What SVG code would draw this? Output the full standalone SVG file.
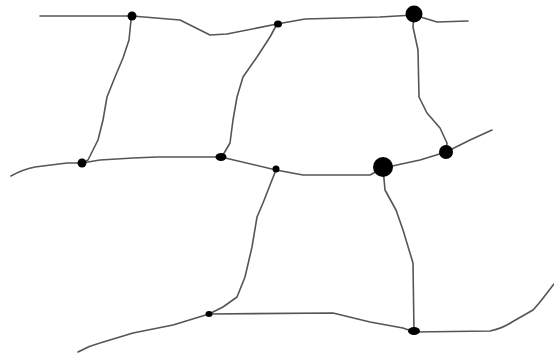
<svg xmlns="http://www.w3.org/2000/svg" width="554" height="355" viewBox="0 0 554 355">
<style>
.e{fill:none;stroke:#555;stroke-width:1.6;stroke-linejoin:round;stroke-linecap:round}
.n{fill:#000}
</style>
<rect width="554" height="355" fill="#fff"/>
<g id="connectors">
<path class="e" d="M40,16 L132,16 L180,20 L210,35 L227,34 L277,24 L305,19 L380,17 L414,15 L437,22 L468,21"/>
<path class="e" d="M11,176 C18,172 25,169 35,167 L67,163 L82,163 L100,160 L133,158 L157,157 L213,157 L221,157 L276,170 L303,175 L370,175 L383,168 L420,160 L446,152 L470,140 L492,130"/>
<path class="e" d="M78,352 C85,348 92,345 100,343 L133,333 L173,325 L209,314 L333,313 L370,322 L403,328 L414,332 L490,331 C500,329 506,326 512,322 L533,310 C540,303 546,294 554,284"/>
<path class="e" d="M132,16 L131,20 L129,40 L123,58 L115,77 L107,97 L103,120 L98,140 L88,160 L82,163"/>
<path class="e" d="M277,24 L270,37 L257,57 L243,77 L237,97 L233,120 L230,143 L223,155 L221,157"/>
<path class="e" d="M414,15 L413,27 L418,50 L419,97 L427,113 L440,128 L447,143 L446,152"/>
<path class="e" d="M276,170 L272,180 L263,203 L257,217 L252,247 L245,277 L237,297 L223,307 L209,314"/>
<path class="e" d="M383,168 L385,190 L396,210 L403,230 L413,263 L414,332"/>
</g>
<g id="nA"><circle class="n" cx="132" cy="16" r="4.5"/></g>
<g id="nB"><ellipse class="n" cx="278" cy="24" rx="4" ry="3.5"/></g>
<g id="nC"><circle class="n" cx="414" cy="14" r="8.5"/></g>
<g id="nD"><circle class="n" cx="82" cy="163" r="4.5"/></g>
<g id="nE"><ellipse class="n" cx="221" cy="157" rx="5.5" ry="4"/></g>
<g id="nF"><circle class="n" cx="276" cy="169" r="3.5"/></g>
<g id="nG"><circle class="n" cx="383" cy="167" r="10"/></g>
<g id="nH"><circle class="n" cx="446" cy="152" r="7"/></g>
<g id="nI"><ellipse class="n" cx="209" cy="314" rx="3.5" ry="3"/></g>
<g id="nJ"><ellipse class="n" cx="414" cy="331" rx="6" ry="4"/></g>
</svg>
